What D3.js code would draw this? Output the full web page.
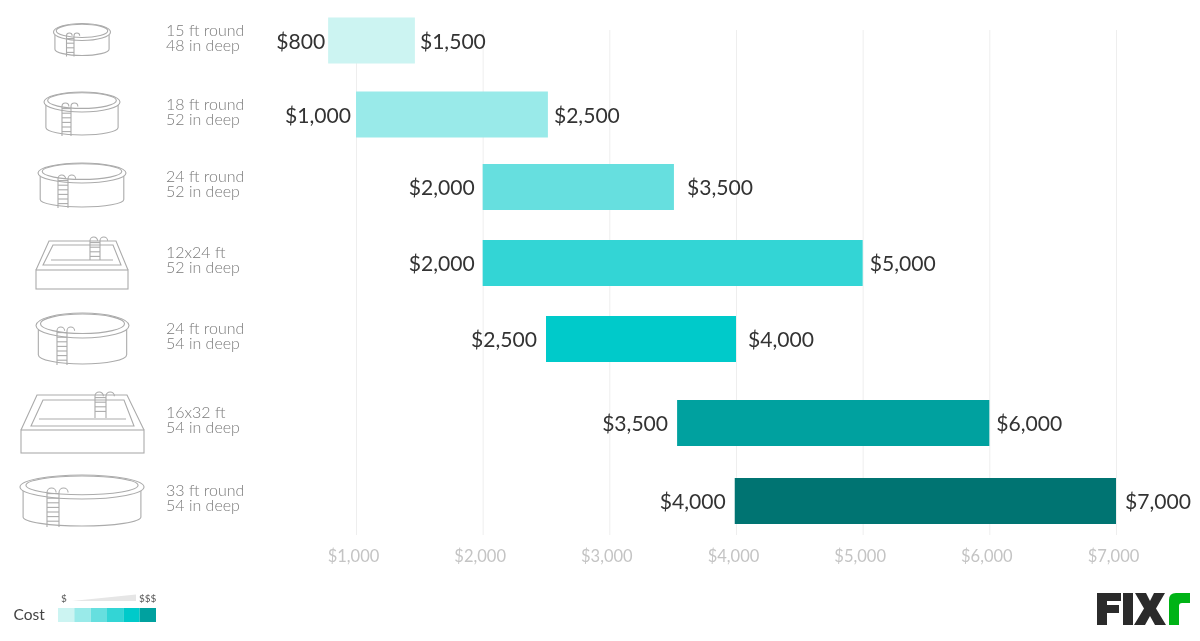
<!DOCTYPE html>
<html>
<head>
<meta charset="utf-8">
<script src="https://cdn.jsdelivr.net/npm/d3@7"></script>
<style>
  html, body { margin: 0; padding: 0; background: #fff; }
  svg { display: block; will-change: transform; }
  text { font-family: Lato, "Open Sans", sans-serif; }
</style>
</head>
<body>
<div id="chart"></div>
<script>
// chart data

var sizes = ["15 ft round", "18 ft round", "24 ft round", "12x24 ft", "24 ft round", "16x32 ft", "33 ft round"];
var depths = ["48 in deep", "52 in deep", "52 in deep", "52 in deep", "54 in deep", "54 in deep", "54 in deep"];
var lows = [780, 1000, 2000, 2000, 2500, 3535, 3990];
var highs = [1465, 2515, 3510, 5000, 4000, 6000, 7000];
var lowLabels = ["$800", "$1,000", "$2,000", "$2,000", "$2,500", "$3,500", "$4,000"];
var highLabels = ["$1,500", "$2,500", "$3,500", "$5,000", "$4,000", "$6,000", "$7,000"];
var ticks = [1000, 2000, 3000, 4000, 5000, 6000, 7000];
var barColors = ["#ccf4f2", "#99eae9", "#66dfdf", "#33d5d5", "#00caca", "#00a19f", "#007472"];
var legendColors = ["#ccf4f2", "#99eae9", "#66dfdf", "#33d5d5", "#00caca", "#00a19f"];

// initial settings

var svgWidth = 1200;
var svgHeight = 641;
var rows = d3.range(sizes.length);

var svg = d3.select("#chart")
  .append("svg")
  .attr("width", svgWidth)
  .attr("height", svgHeight);

// scales

var xline = d3.scaleLinear().domain([1000, 7000]).range([356, 1116]);

// rows in the original are not evenly spaced
var yline = d3.scaleOrdinal().domain(rows).range([40.5, 114.5, 187, 263, 339, 423, 501]);
var nameY = d3.scaleOrdinal().domain(rows).range([36, 110, 182, 258, 334, 418, 496]);
var barHeight = 46;

// gaps between bar ends and their labels
var lowGap = d3.scaleOrdinal().domain(rows).range([3, 5, 8, 8, 9, 9, 9]);
var highGap = d3.scaleOrdinal().domain(rows).range([5, 6, 13, 7, 12, 7, 9]);

// axis with grid lines

var axis = svg.append("g")
  .attr("transform", "translate(0, 535)")
  .call(d3.axisBottom(xline)
    .tickValues(ticks)
    .tickFormat(d3.format("$,"))
    .tickSize(-505)
    .tickPadding(15));

axis.select(".domain").remove();
axis.selectAll("line").attr("stroke", "#eeeeee").attr("stroke-width", 1);
axis.selectAll("text")
  .attr("fill", "#c4c4c4")
  .attr("dx", -3)
  .style("font-size", "16.5px");

// bars

svg.selectAll(".bar")
  .data(rows)
  .enter()
  .append("rect")
  .attr("class", "bar")
  .attr("x", d => xline(lows[d]))
  .attr("y", d => yline(d) - barHeight / 2)
  .attr("width", d => xline(highs[d]) - xline(lows[d]))
  .attr("height", barHeight)
  .attr("fill", d => barColors[d]);

// bar labels

svg.selectAll(".low")
  .data(rows)
  .enter()
  .append("text")
  .attr("class", "low")
  .attr("x", d => xline(lows[d]) - lowGap(d))
  .attr("y", d => yline(d) + 1)
  .attr("dy", "0.35em")
  .attr("text-anchor", "end")
  .attr("fill", "#333333")
  .style("font-size", "21.1px")
  .text(d => lowLabels[d]);

svg.selectAll(".high")
  .data(rows)
  .enter()
  .append("text")
  .attr("class", "high")
  .attr("x", d => xline(highs[d]) + highGap(d))
  .attr("y", d => yline(d) + 1)
  .attr("dy", "0.35em")
  .attr("fill", "#333333")
  .style("font-size", "21.1px")
  .text(d => highLabels[d]);

// size and depth labels

var names = svg.selectAll(".name")
  .data(rows)
  .enter()
  .append("text")
  .attr("class", "name")
  .attr("fill", "#7a7a7a")
  .style("font-size", "16px")
  .style("font-weight", 300);

names.append("tspan")
  .attr("x", 166)
  .attr("y", d => nameY(d))
  .text(d => sizes[d]);

names.append("tspan")
  .attr("x", 166)
  .attr("y", d => nameY(d) + 14.5)
  .text(d => depths[d]);

// pool icons

var icons = svg.append("g")
  .attr("fill", "none")
  .attr("stroke", "#ababab")
  .attr("stroke-width", 1.1);

function ladder(lx, lw, top, bottom) {
  var g = icons.append("g");
  var r = lw * 0.38;
  g.append("path")
    .attr("d", `M${lx},${bottom} V${top + r} a${r},${r} 0 0 1 ${2 * r},0
      M${lx + lw},${bottom} V${top + r} a${r},${r} 0 0 1 ${2 * r},0`);
  var steps = Math.floor((bottom - top - 4) / 4.6);
  for (var i = 1; i <= steps; i++) {
    var sy = top + 1 + i * 4.6;
    g.append("line").attr("x1", lx).attr("x2", lx + lw).attr("y1", sy).attr("y2", sy);
  }
}

function roundPool(cx, cy, rx, ry, h, lx, lw, ltop) {
  var inset = rx * 0.06;
  var side = rx * 0.95;
  var arc = ry * 0.75;
  // body
  icons.append("path")
    .attr("d", `M${cx - side},${cy + 3} V${cy + h - arc}
      A${side},${arc} 0 0 0 ${cx + side},${cy + h - arc} V${cy + 3}`);
  // rim
  icons.append("ellipse").attr("fill", "#fff")
    .attr("cx", cx).attr("cy", cy).attr("rx", rx).attr("ry", ry);
  // inner wall, shifted up a little
  icons.append("ellipse")
    .attr("cx", cx).attr("cy", cy - ry * 0.14).attr("rx", rx - inset * 1.6).attr("ry", ry * 0.78);
  ladder(lx, lw, ltop, cy + h + 1);
}

function rectPool(x0, x1, rimY, bottom, tx0, tx1, topY, ix0, ix1, iy, fx0, fx1, fy, inY, inIn, lx, lw, ltop, lbottom) {
  icons.append("rect").attr("x", x0).attr("y", rimY).attr("width", x1 - x0).attr("height", bottom - rimY);
  // outer deck
  icons.append("path").attr("d", `M${x0},${rimY} L${tx0},${topY} H${tx1} L${x1},${rimY}`);
  // water line
  icons.append("path").attr("d", `M${fx0},${fy} L${ix0},${iy} H${ix1} L${fx1},${fy} Z`);
  icons.append("line").attr("x1", fx0 + inIn).attr("x2", fx1 - inIn).attr("y1", inY).attr("y2", inY);
  ladder(lx, lw, ltop, lbottom);
}

roundPool(82, 32, 28.5, 8.5, 23.5, 66.5, 7.5, 33);
roundPool(82, 102, 38, 10, 33, 62, 9, 103);
roundPool(82, 173, 44, 10, 34, 58, 10, 175);
rectPool(36, 128, 270, 289, 49, 116, 241, 53, 113, 245, 43, 121, 265, 260, 8, 90, 10, 237, 260);
roundPool(82.5, 325.5, 46.5, 12.5, 38.5, 57, 10, 327);
rectPool(21, 144, 430, 453, 37, 127, 395, 43, 124, 400, 31, 134, 426, 419, 8, 95, 11, 392, 418);
roundPool(82, 487, 62, 12, 39, 47, 12, 488);

// cost legend

var legendX = d3.scaleBand().domain(d3.range(legendColors.length)).range([58, 156]);

svg.selectAll(".swatch")
  .data(legendColors)
  .enter()
  .append("rect")
  .attr("class", "swatch")
  .attr("x", (d, i) => legendX(i))
  .attr("y", 608)
  .attr("width", legendX.bandwidth())
  .attr("height", 14)
  .attr("fill", d => d);

svg.append("path")
  .attr("d", "M72,601 L136,594.5 V601 Z")
  .attr("fill", "#e6e6e6");

svg.append("text").attr("x", 13.5).attr("y", 620).attr("fill", "#444444").style("font-size", "15.5px").text("Cost");
svg.append("text").attr("x", 61).attr("y", 602).attr("fill", "#555555").style("font-size", "10px").text("$");
svg.append("text").attr("x", 139).attr("y", 602).attr("fill", "#555555").style("font-size", "10px").text("$$$");

// logo

var logo = svg.append("g").attr("transform", "translate(1097, 593)");
logo.append("path").attr("fill", "#2b2b2b")
  .attr("d", "M0,0 H24 V8 H10 V12 H22 V20 H10 V32 H0 Z M26,0 H36 V32 H26 Z M38,0 H49 L53,8 L57,0 H68 L59,15.5 L69,32 H58 L53,23 L48,32 H37 L47,15.5 Z");
logo.append("path").attr("fill", "#00b316")
  .attr("d", "M72,32 V7 Q72,0 79,0 H93 V10 H85 Q82,10 82,13 V32 Z");
</script>
</body>
</html>
